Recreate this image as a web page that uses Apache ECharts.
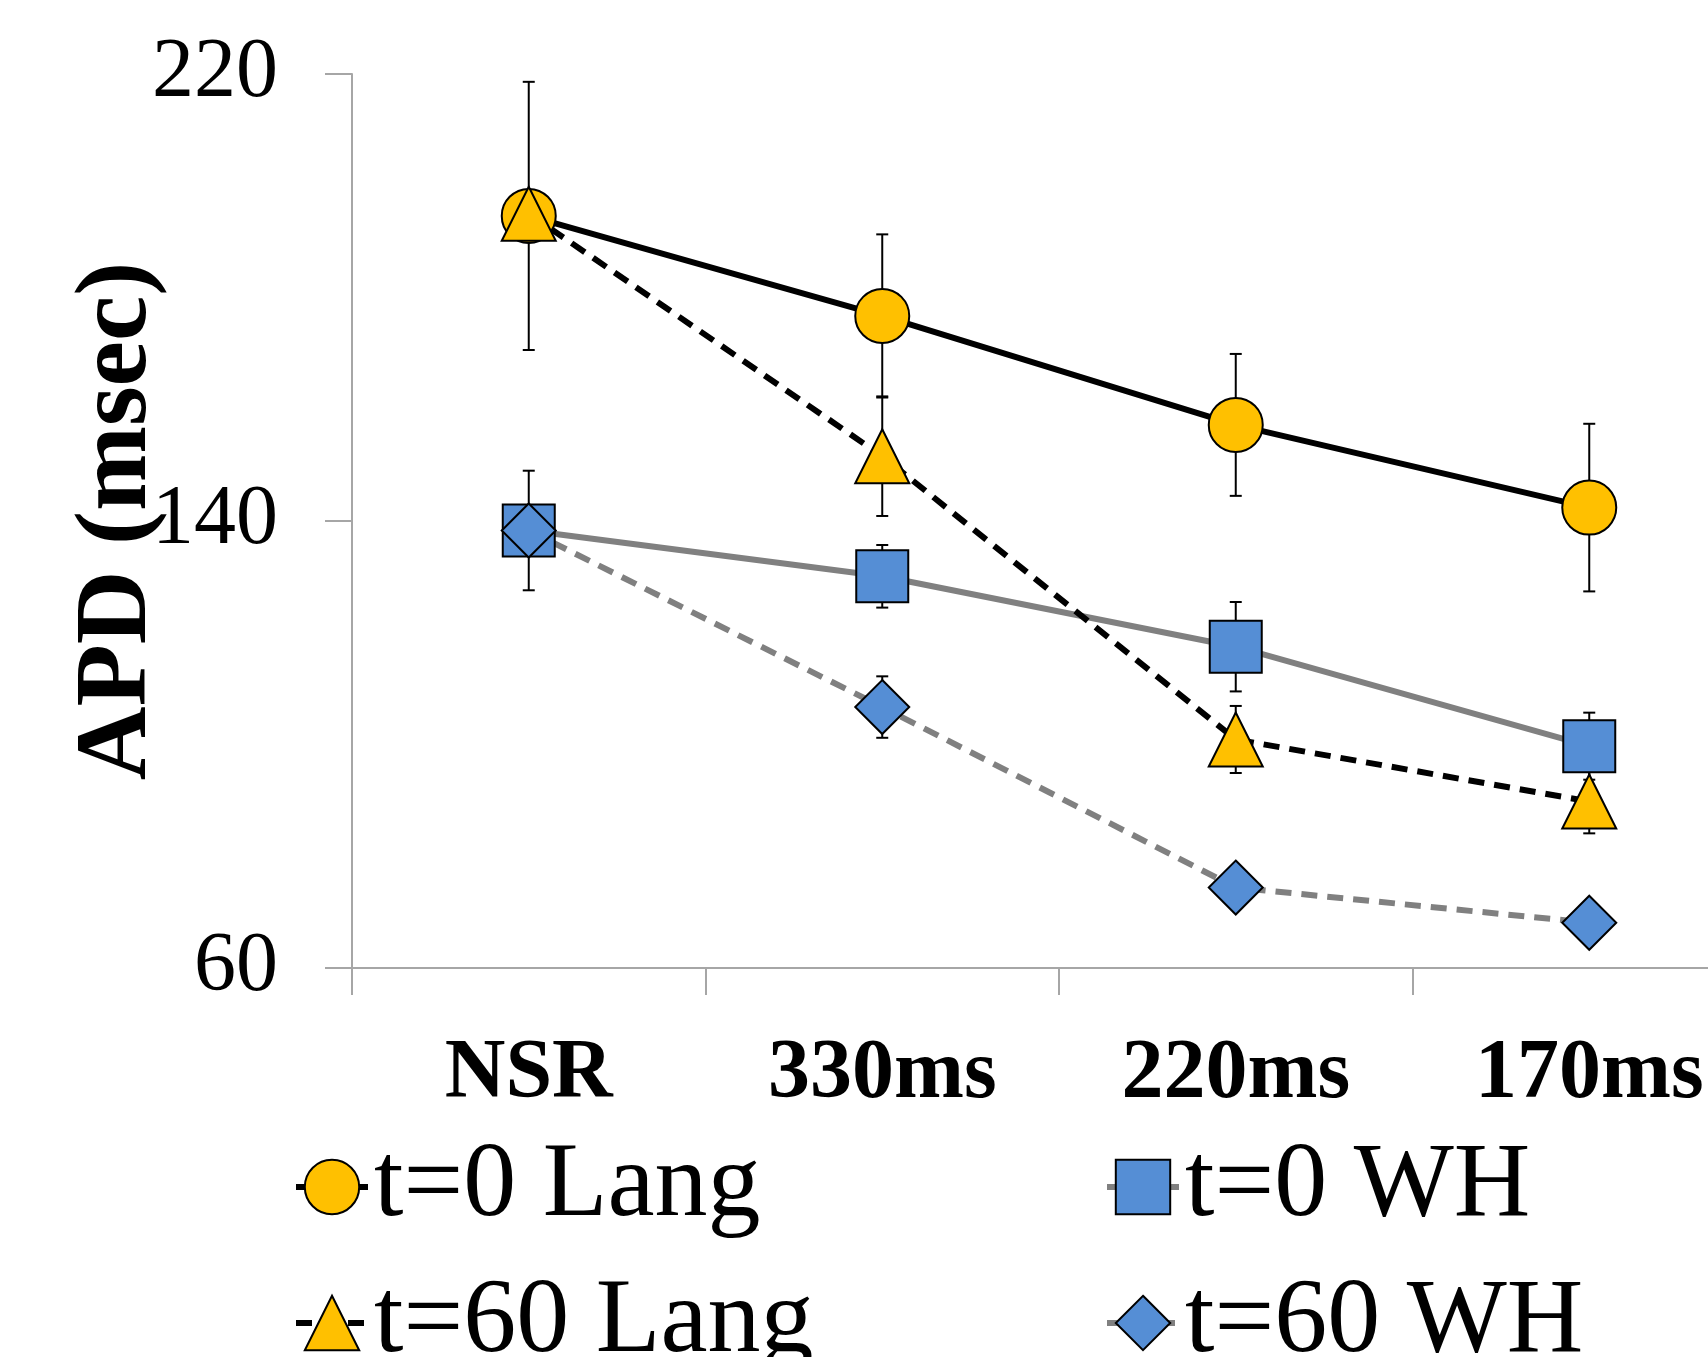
<!DOCTYPE html>
<html>
<head>
<meta charset="utf-8">
<script src="https://cdn.jsdelivr.net/npm/echarts@6/dist/echarts.min.js"></script>
<style>
  html, body { margin: 0; padding: 0; background: #ffffff; }
  #chart { width: 1708px; height: 1357px; }
</style>
</head>
<body>
<div id="chart"></div>
<script>
// values
const categories = ["NSR", "330ms", "220ms", "170ms"];
const lang0 = [194.6, 176.7, 157.2, 142.4];
const lang0Err = [24, 14.6, 12.7, 15];
const wh0 = [138.3, 130.1, 117.5, 99.7];
const wh0Err = [10.7, 5.6, 8, 6];
const lang60 = [195.0, 151.6, 100.9, 89.8];
const lang60Err = [4, 10.7, 6, 5.7];
const wh60 = [138.3, 106.7, 74.4, 68.1];
const wh60Err = [4, 5.5, 3, 3];

const FONT = "Liberation Serif";
const YELLOW = "#FFC000";
const BLUE = "#558ED5";
const GREY = "#808080";

const errorBars = (values, errs) => ({
    type: "custom",
    z: 1,
    silent: true,
    encode: { x: 0, y: 1 },
    data: values.map((v, i) => [i, v, errs[i]]),
    renderItem: (params, api) => {
        const i = api.value(0);
        const v = api.value(1);
        const e = api.value(2);
        const top = api.coord([i, v + e]);
        const bot = api.coord([i, v - e]);
        const w = 6;
        const style = { stroke: "#000", lineWidth: 2 };
        return {
            type: "group",
            children: [
                { type: "line", shape: { x1: top[0], y1: top[1], x2: bot[0], y2: bot[1] }, style },
                { type: "line", shape: { x1: top[0] - w, y1: top[1], x2: top[0] + w, y2: top[1] }, style },
                { type: "line", shape: { x1: bot[0] - w, y1: bot[1], x2: bot[0] + w, y2: bot[1] }, style },
            ],
        };
    },
});

const lineSeries = (name, data, symbol, size, fill, lineColor, dashed) => ({
    name,
    type: "line",
    data,
    symbol,
    symbolSize: size,
    showAllSymbol: true,
    itemStyle: { color: fill, borderColor: "#000", borderWidth: 2 },
    lineStyle: { color: lineColor, width: 6, type: dashed ? [16, 10] : "solid" },
    emphasis: { disabled: true },
    z: 2,
});

const legendText = { fontSize: 106, fontFamily: FONT, color: "#000", lineHeight: 106, padding: [0, 0, 0, 1] };
// one legend box per entry, laid out in two columns like the original
const legendItem = (name, left, top) => ({
    data: [name],
    left,
    top,
    itemWidth: 72,
    itemHeight: 68,
    lineStyle: { width: 6 },
    textStyle: legendText,
});

const chart = echarts.init(document.getElementById("chart"));
chart.setOption({
    animation: false,
    backgroundColor: "#ffffff",
    textStyle: { fontFamily: FONT },
    grid: { left: 352, top: 74, right: -58, bottom: 389, outerBoundsMode: "none" },
    xAxis: {
        type: "category",
        data: categories,
        boundaryGap: true,
        axisLine: { lineStyle: { color: "#a6a6a6", width: 2 } },
        axisTick: { show: true, length: 27, lineStyle: { color: "#a6a6a6", width: 2 } },
        axisLabel: { fontSize: 84, fontWeight: "bold", color: "#000", fontFamily: FONT, margin: 65 },
    },
    yAxis: {
        type: "value",
        min: 60,
        max: 220,
        interval: 80,
        name: "APD (msec)",
        nameLocation: "middle",
        nameGap: 182,
        nameMoveOverlap: false,
        nameTextStyle: { fontSize: 102, fontWeight: "bold", color: "#000", fontFamily: FONT },
        splitLine: { show: false },
        axisLine: { show: true, lineStyle: { color: "#a6a6a6", width: 2 } },
        axisTick: { show: true, length: 27, lineStyle: { color: "#a6a6a6", width: 2 } },
        axisLabel: { fontSize: 84, color: "#000", fontFamily: FONT, margin: 74 },
    },
    legend: [
        legendItem("t=0 Lang", 288, 1129),
        legendItem("t=60 Lang", 288, 1265),
        legendItem("t=0 WH", 1099, 1129),
        legendItem("t=60 WH", 1099, 1265),
    ],
    series: [
        errorBars(lang0, lang0Err),
        errorBars(wh0, wh0Err),
        errorBars(lang60, lang60Err),
        errorBars(wh60, wh60Err),
        lineSeries("t=0 Lang", lang0, "circle", 54, YELLOW, "#000", false),
        lineSeries("t=0 WH", wh0, "rect", 52, BLUE, GREY, false),
        lineSeries("t=60 Lang", lang60, "triangle", 54, YELLOW, "#000", true),
        lineSeries("t=60 WH", wh60, "diamond", 54, BLUE, GREY, true),
    ],
});
</script>
</body>
</html>
